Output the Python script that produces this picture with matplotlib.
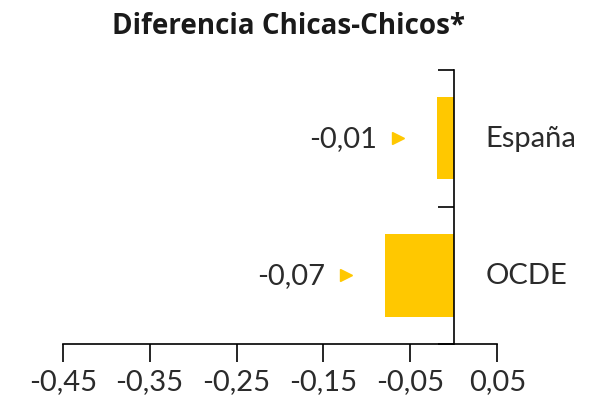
import matplotlib.pyplot as plt

# datos
categorias = ["España", "OCDE"]
valores = [-0.019, -0.079]
etiquetas_valor = ["-0,01", "-0,07"]
xticks = [-0.45, -0.35, -0.25, -0.15, -0.05, 0.05]
xtick_labels = ["-0,45", "-0,35", "-0,25", "-0,15", "-0,05", "0,05"]

amarillo = "#FFC800"
texto = "#2b2b2b"

plt.rcParams["font.family"] = ["Lato", "DejaVu Sans"]

fig = plt.figure(figsize=(5.98, 4.06), dpi=100)
ax = fig.add_axes([62.7 / 598, 61 / 406, (497.3 - 62.7) / 598, (345 - 70.7) / 406])

pos = list(range(len(categorias)))
ax.barh(pos, valores, height=0.6, color=amarillo)

ax.set_xlim(-0.45, 0.05)
ax.set_ylim(1.5, -0.5)

ax.set_xticks(xticks)
ax.set_xticklabels(xtick_labels, fontsize=21, color=texto)
ax.set_yticks([-0.5, 0.5, 1.5])
ax.set_yticklabels([])

for s in ["top", "right"]:
    ax.spines[s].set_visible(False)
ax.spines["left"].set_position(("data", 0))
ax.spines["left"].set_linewidth(1.2)
ax.spines["bottom"].set_linewidth(1.2)
ax.tick_params(axis="x", length=13, width=1.2, pad=4)
ax.tick_params(axis="y", length=11.5, width=1.2, direction="out")

for i, (v, lab) in enumerate(zip(valores, etiquetas_valor)):
    ax.plot(v - 0.045, i, marker=">", markersize=9, color=amarillo, clip_on=False)
    ax.text(v - 0.069, i, lab, ha="right", va="center", fontsize=21, color=texto)
    ax.text(0.036, i, categorias[i], ha="left", va="center", fontsize=21,
            color=texto, clip_on=False)

fig.text(0.483, 0.935, "Diferencia Chicas-Chicos*", ha="center", va="center",
         fontsize=20, fontweight="bold", color="#1a1a1a",
         family=["Open Sans", "DejaVu Sans"])

fig.savefig("out.png", dpi=100)
